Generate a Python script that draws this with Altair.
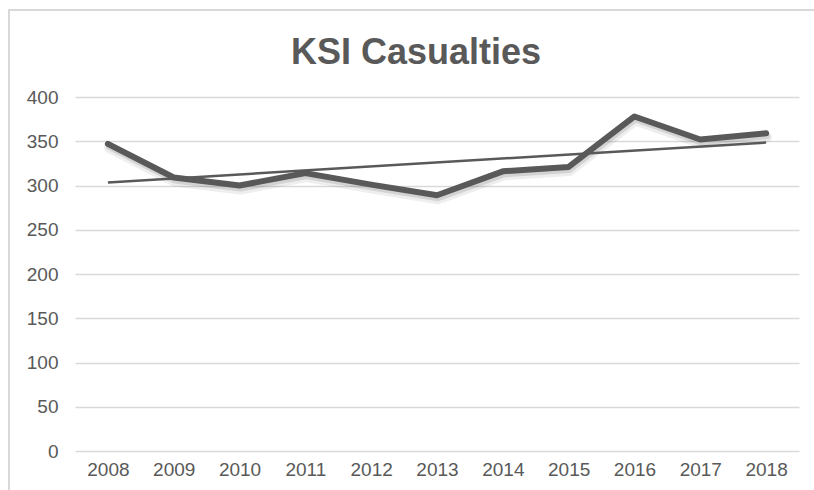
import altair as alt
import pandas as pd

# Killed or seriously injured casualties per year
years = [2008, 2009, 2010, 2011, 2012, 2013, 2014, 2015, 2016, 2017, 2018]
casualties = [347, 309, 300, 314, 301, 289, 316, 321, 378, 352, 359]
chart_title = "KSI Casualties"

df = pd.DataFrame({"year": years, "ksi": casualties})

GREY = "#595959"
GRID = "#d9d9d9"

x_enc = alt.X(
    "year:Q",
    scale=alt.Scale(domain=[2007.5, 2018.5], nice=False, zero=False),
    axis=alt.Axis(
        values=years, format="d", title=None, grid=False, ticks=False,
        domain=False, labelPadding=9, labelFontSize=19, labelColor=GREY,
        labelFont="Liberation Sans",
    ),
)
y_enc = alt.Y(
    "ksi:Q",
    scale=alt.Scale(domain=[0, 400], nice=False),
    axis=alt.Axis(
        values=list(range(0, 401, 50)), title=None, ticks=False, domain=False,
        gridColor=GRID, gridWidth=1.6, labelPadding=17, labelFontSize=19,
        labelColor=GREY, labelFont="Liberation Sans",
    ),
)

base = alt.Chart(df).encode(x=x_enc, y=y_enc)

# soft drop shadow under the series line
shadow_wide = base.mark_line(
    stroke=GREY, strokeWidth=10, opacity=0.10, yOffset=4, xOffset=1,
    strokeCap="round", strokeJoin="round",
)
shadow_narrow = base.mark_line(
    stroke=GREY, strokeWidth=6, opacity=0.18, yOffset=3, xOffset=1,
    strokeCap="round", strokeJoin="round",
)
series = base.mark_line(
    stroke=GREY, strokeWidth=6, strokeCap="round", strokeJoin="round"
)

trend = (
    alt.Chart(df)
    .transform_regression("year", "ksi", method="linear")
    .mark_line(stroke=GREY, strokeWidth=2.5)
    .encode(x=x_enc, y=y_enc)
)

one = alt.Data(values=[{"label": chart_title}])

# chart-area outline: left and top edges
frame_left = alt.Chart(one).mark_rule(stroke=GRID, strokeWidth=2).encode(
    x=alt.value(-66), y=alt.value(-88), y2=alt.value(400)
)
frame_top = alt.Chart(one).mark_rule(stroke=GRID, strokeWidth=2).encode(
    y=alt.value(-87), x=alt.value(-67), x2=alt.value(760)
)

heading = alt.Chart(one).mark_text(
    font="Liberation Sans", fontSize=36, fontWeight="bold",
    color=GREY, align="center", baseline="alphabetic",
).encode(text="label:N", x=alt.value(341), y=alt.value(-33))

chart = (
    alt.layer(frame_left, frame_top, shadow_wide, shadow_narrow, series, trend, heading)
    .properties(
        width=724,
        height=354,
        padding={"left": 75, "top": 97, "right": 15, "bottom": 39},
        autosize="none",
        background="white",
    )
    .configure_view(stroke=None)
)

chart.save("out.html", embed_options={"renderer": "svg", "actions": False})
